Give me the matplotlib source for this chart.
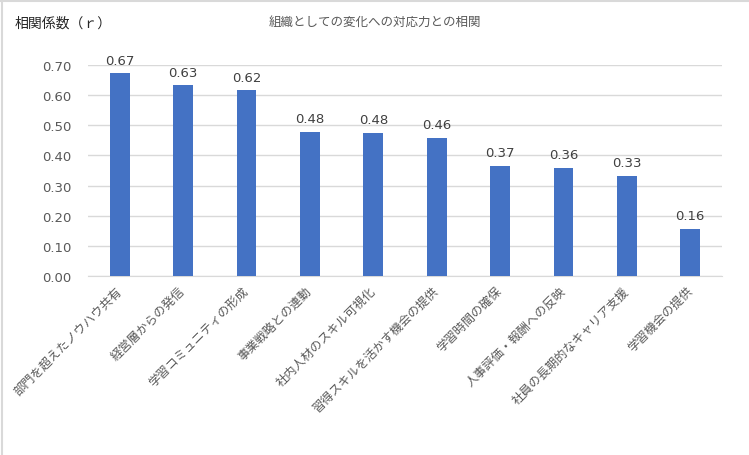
import matplotlib
matplotlib.use('Agg')
import matplotlib.pyplot as plt
from matplotlib.lines import Line2D

plt.rcParams['font.family'] = ['Noto Sans CJK JP', 'DejaVu Sans']

# データ
categories = ['部門を超えたノウハウ共有', '経営層からの発信', '学習コミュニティの形成',
              '事業戦略との連動', '社内人材のスキル可視化', '習得スキルを活かす機会の提供',
              '学習時間の確保', '人事評価・報酬への反映', '社員の長期的なキャリア支援',
              '学習機会の提供']
values = [0.672, 0.632, 0.616, 0.479, 0.476, 0.459, 0.366, 0.359, 0.333, 0.157]
yticks = [0.0, 0.1, 0.2, 0.3, 0.4, 0.5, 0.6, 0.7]

bar_color = '#4472C4'
grid_color = '#d9d9d9'
text_color = '#595959'

fig = plt.figure(figsize=(7.49, 4.56), dpi=100)
ax = fig.add_axes([88 / 749, 1 - 277 / 456, (722 - 88) / 749, (277 - 66) / 456])

x = list(range(len(categories)))
bars = ax.bar(x, values, width=0.31, color=bar_color, zorder=3)

# 値ラベル
for xi, v in zip(x, values):
    ax.text(xi, v + 0.022, f'{v:.2f}', ha='center', va='bottom', fontsize=9.5,
            family=['DejaVu Sans'], color='#404040', clip_on=False)

ax.set_xlim(-0.5, len(categories) - 0.5)
ax.set_ylim(0, 0.7)
ax.set_yticks(yticks)
ax.set_yticklabels([f'{t:.2f}' for t in yticks], family=['DejaVu Sans'])
ax.tick_params(axis='y', length=0, pad=12, labelsize=9.5, labelcolor=text_color)
ax.set_xticks(x)
ax.set_xticklabels(categories, rotation=45, ha='right', va='center',
                   rotation_mode='anchor', fontsize=8.8, color=text_color)
ax.tick_params(axis='x', length=0, pad=9)

ax.grid(axis='y', color=grid_color, linewidth=1, zorder=0)
for s in ['top', 'right', 'left']:
    ax.spines[s].set_visible(False)
ax.spines['bottom'].set_color(grid_color)
ax.spines['bottom'].set_zorder(1)

fig.text(15 / 749, 1 - 24 / 456, '相関係数（ｒ）', fontsize=10, color='#262626',
         ha='left', va='center')
fig.text(375 / 749, 1 - 22 / 456, '組織としての変化への対応力との相関', fontsize=9,
         color=text_color, ha='center', va='center')

# 枠線（左・上）
fig.add_artist(Line2D([1.5 / 749, 1.5 / 749], [0, 1], color=grid_color, lw=1.5,
                      transform=fig.transFigure))
fig.add_artist(Line2D([0, 1], [1 - 1.5 / 456, 1 - 1.5 / 456], color=grid_color, lw=1.5,
                      transform=fig.transFigure))

fig.savefig('out.png', dpi=100)
